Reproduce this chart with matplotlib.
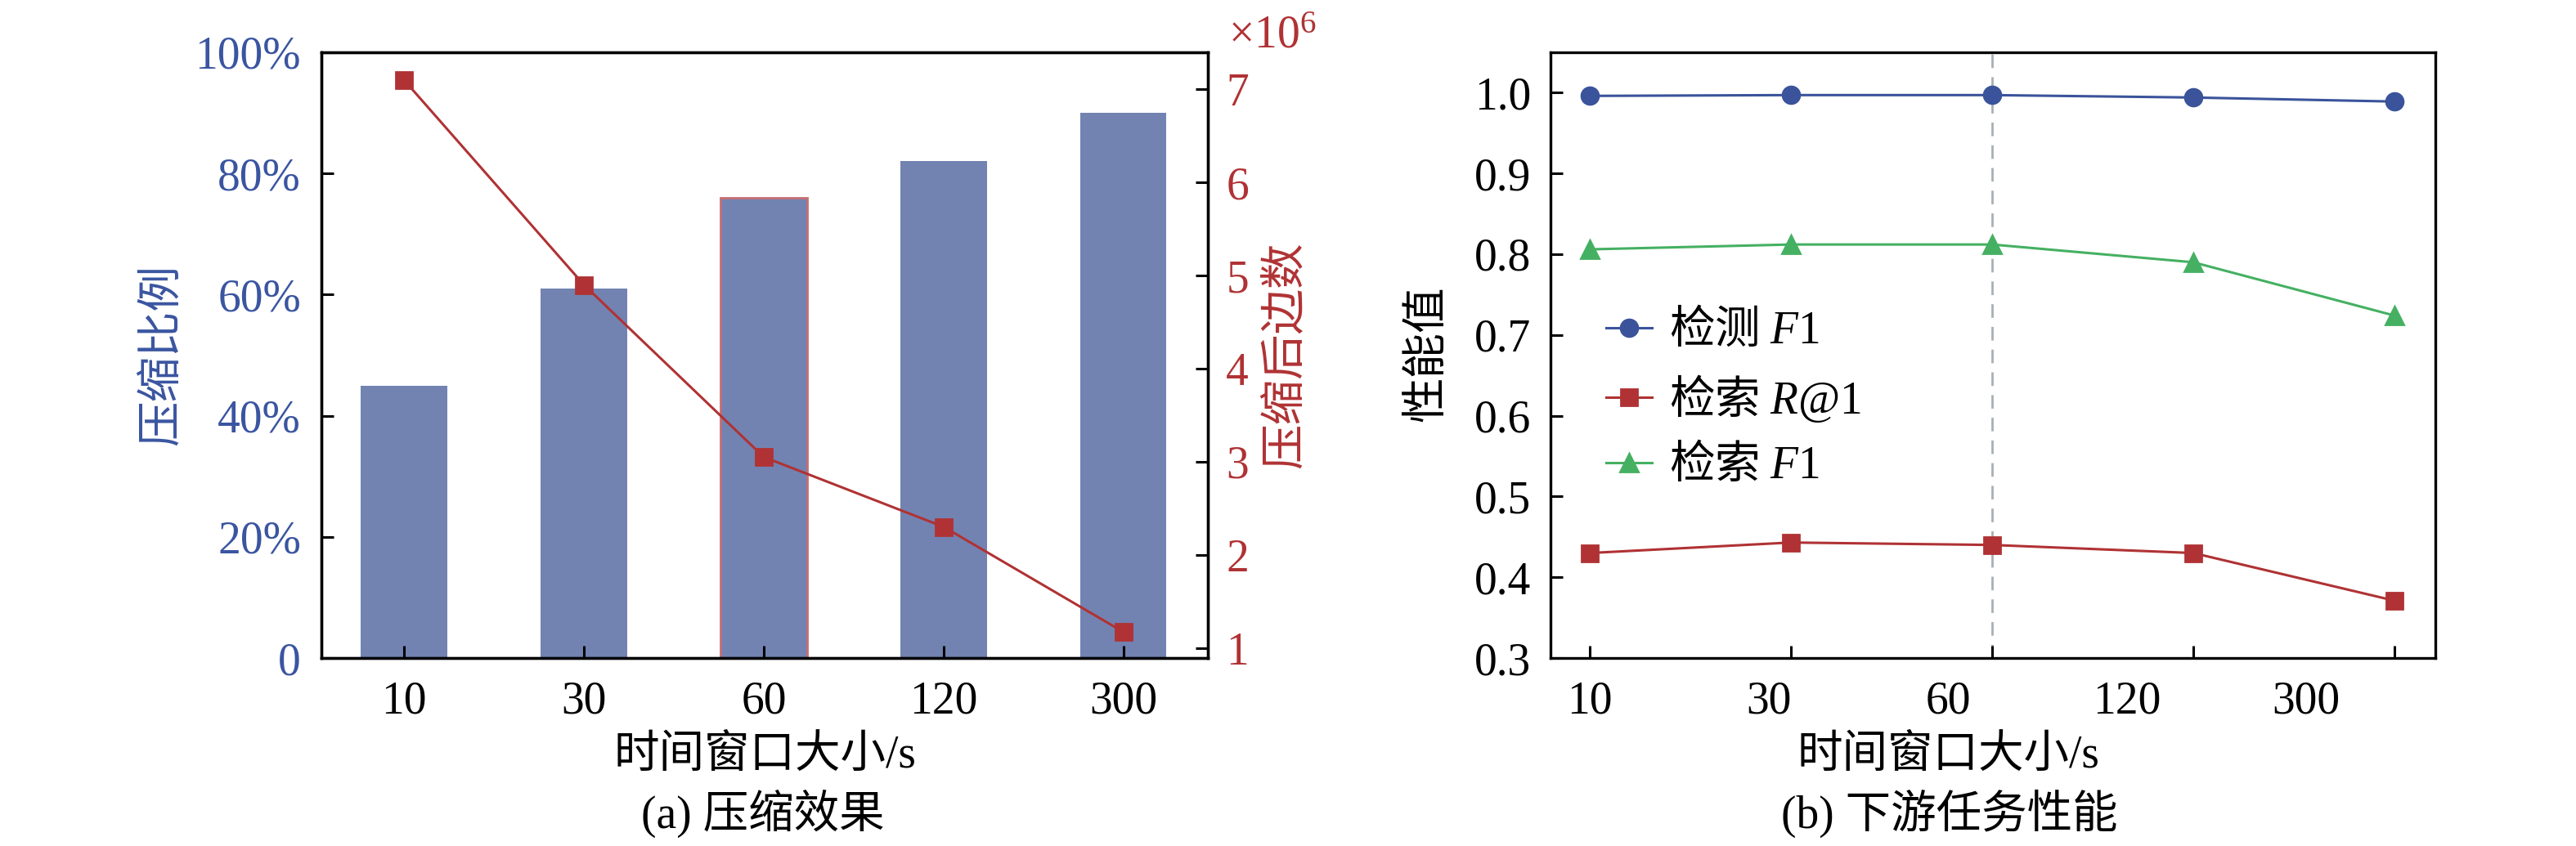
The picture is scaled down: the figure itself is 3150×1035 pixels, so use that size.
import matplotlib
matplotlib.use("Agg")
import matplotlib.pyplot as plt
import numpy as np
from matplotlib.ticker import FuncFormatter

plt.rcParams['font.family'] = ['Liberation Serif', 'Noto Sans CJK SC']
plt.rcParams['font.size'] = 20
plt.rcParams['mathtext.fontset'] = 'custom'
plt.rcParams['mathtext.rm'] = 'Liberation Serif'
plt.rcParams['mathtext.it'] = 'Liberation Serif:italic'
plt.rcParams['axes.linewidth'] = 1.2

# data
windows = ['10', '30', '60', '120', '300']
compress_ratio = [45, 61, 76, 82, 90]          # %
edges_after = [7.10, 4.90, 3.05, 2.30, 1.17]   # x10^6
det_f1 = [0.996, 0.997, 0.997, 0.994, 0.989]
ret_r1 = [0.430, 0.443, 0.440, 0.430, 0.371]
ret_f1 = [0.806, 0.812, 0.812, 0.790, 0.724]

BLUE_TXT = '#3A55A0'
RED = '#B03234'
BAR = '#7283B2'
L_BLUE = '#3A539B'
L_GREEN = '#45B062'

fig = plt.figure(figsize=(15.75, 5.175), dpi=200)
ax1 = fig.add_axes([0.1248, 0.2222, 0.3441, 0.716])
ax3 = fig.add_axes([0.6019, 0.2222, 0.3435, 0.716])

tick_kw = dict(direction='in', length=5.4, width=1.1, labelsize=20)

# ---------------- (a) compression ----------------
x = np.arange(len(windows))
bars = ax1.bar(x, compress_ratio, width=0.48, color=BAR, zorder=1)
bars[2].set_edgecolor('#C56E73')
bars[2].set_linewidth(1.0)
ax1.set_xlim(-0.46, 4.47)
ax1.set_ylim(0, 100)
ax1.set_xticks(x, windows)
ax1.set_yticks([0, 20, 40, 60, 80, 100])
ax1.yaxis.set_major_formatter(FuncFormatter(lambda v, p: '0' if v == 0 else f'{int(v)}%'))
ax1.tick_params(axis='both', **tick_kw)
ax1.tick_params(axis='x', pad=10)
ax1.tick_params(axis='y', pad=9, labelcolor=BLUE_TXT)
ax1.set_ylabel('压缩比例', color=BLUE_TXT, va='center')
ax1.yaxis.set_label_coords(-0.179, 0.5)
ax1.set_xlabel('时间窗口大小/s', va='center')
ax1.xaxis.set_label_coords(0.5, -0.162)

ax2 = ax1.twinx()
ax2.plot(x, edges_after, '-s', color=RED, lw=1.1, ms=7.5, zorder=3)
ax2.set_ylim(0.89, 7.4)
ax2.set_yticks(range(1, 8))
ax2.tick_params(axis='y', pad=8, labelcolor=RED, **tick_kw)
ax2.set_ylabel('压缩后边数', color=RED, va='center')
ax2.yaxis.set_label_coords(1.0886, 0.5)
ax2.text(1.023, 1.026, r'$\mathrm{\times 10^{6}}$', transform=ax2.transAxes,
         color=RED, ha='left', va='center', fontsize=20)
for sp in ax2.spines.values():
    sp.set_linewidth(1.2)

fig.text(0.2962, 0.0386, '(a) 压缩效果', ha='center', va='center', fontsize=20)

# ---------------- (b) downstream tasks ----------------
ax3.plot(x, det_f1, '-o', color=L_BLUE, lw=1.1, ms=7.5, label=r'检测 $F\mathrm{1}$')
ax3.plot(x, ret_r1, '-s', color=RED, lw=1.1, ms=7.5, label=r'检索 $R\mathrm{@1}$')
ax3.plot(x, ret_f1, '-^', color=L_GREEN, lw=1.1, ms=8, label=r'检索 $F\mathrm{1}$')
ax3.axvline(2, color='#A9B0B4', ls=(0, (6, 4)), lw=1.0, zorder=0)
ax3.set_xlim(-0.195, 4.203)
ax3.set_ylim(0.3, 1.05)
ax3.set_yticks(np.arange(0.3, 1.01, 0.1))
ax3.yaxis.set_major_formatter(FuncFormatter(lambda v, p: f'{v:.1f}'))
ax3.set_xticks(x, [''] * len(x))
# tick labels sit slightly left of the tick marks, as in the original
ax3.xaxis.remove_overlapping_locs = False
ax3.set_xticks(x * 0.89, windows, minor=True)
ax3.tick_params(axis='both', **tick_kw)
ax3.tick_params(axis='x', which='minor', direction='in', length=0, pad=10, labelsize=20)
ax3.tick_params(axis='y', pad=8.6)
ax3.set_ylabel('性能值', va='center')
ax3.yaxis.set_label_coords(-0.138, 0.503)
ax3.set_xlabel('时间窗口大小/s', va='center')
ax3.xaxis.set_label_coords(0.45, -0.162)

leg = ax3.legend(loc='center left', bbox_to_anchor=(0.063, 0.429), frameon=False,
                 borderpad=0, borderaxespad=0, handlelength=1.0, handletextpad=0.38,
                 labelspacing=0.4, prop={'family': 'Noto Sans CJK SC', 'size': 20})

fig.text(0.7568, 0.0386, '(b) 下游任务性能', ha='center', va='center', fontsize=20)

fig.savefig('out.png', dpi=200)
